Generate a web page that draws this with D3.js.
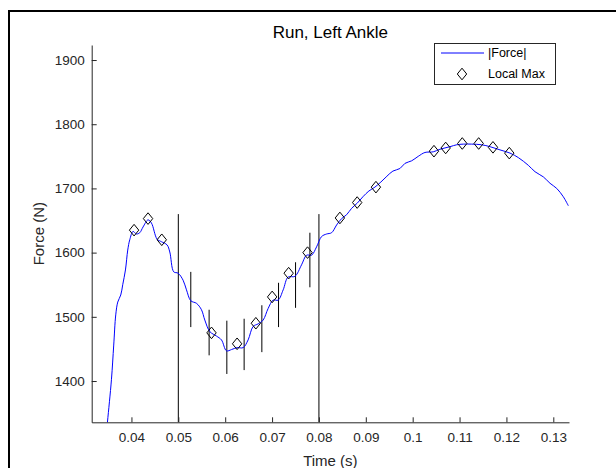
<!DOCTYPE html>
<html>
<head>
<meta charset="utf-8">
<script src="https://cdn.jsdelivr.net/npm/d3@7"></script>
<style>
  html, body { margin: 0; padding: 0; background: #fff; }
  svg { display: block; }
  text { font-family: "Liberation Sans", Arial, Helvetica, sans-serif; }
</style>
</head>
<body>
<svg id="chart" width="616" height="468"></svg>
<script>
// ---- data ----
const forceTime = [0.03451,0.03488,0.03573,0.03622,0.03665,0.03708,0.03772,0.03814,0.03872,0.03921,0.03964,
  0.04034,0.04107,0.04177,0.04248,0.04354,0.04427,0.04547,0.04640,0.04760,0.04818,0.04903,0.04995,
  0.05102,0.05174,0.05266,0.05388,0.05494,0.05565,0.05672,0.05815,0.05921,0.06028,0.06135,0.06254,
  0.06383,0.06489,0.06596,0.06703,0.06810,0.06916,0.07023,0.07130,0.07237,0.07343,0.07486,0.07629,
  0.07736,0.07843,0.07950,0.08056,0.08163,0.08270,0.08377,0.08484,0.08590,0.08697,0.08817,0.08938,
  0.09066,0.09194,0.09322,0.09450,0.09578,0.09728,0.09835,0.09978,0.10119,0.10262,0.10439,0.10582,
  0.10796,0.10939,0.11080,0.11259,0.11472,0.11650,0.11863,0.12077,0.12254,0.12467,0.12610,0.12787,
  0.12930,0.13073,0.13214,0.13321];
const forceValue = [1308,1336,1402,1456,1503,1523,1534,1550,1573,1604,1620,
  1633,1629,1631,1640,1651,1646,1621,1617,1612,1601,1570,1568,
  1557,1542,1525,1521,1511,1495,1477,1470,1464,1447,1449,1452,
  1452,1464,1485,1489,1495,1513,1526,1526,1542,1562,1563,1581,
  1596,1596,1609,1625,1629,1631,1643,1653,1659,1669,1677,1687,
  1696,1702,1710,1719,1727,1731,1739,1743,1750,1756,1757,1761,
  1765,1768,1769,1769,1768,1765,1760,1755,1748,1736,1726,1718,
  1708,1700,1687,1673];

const maxTime  = [0.04056,0.04354,0.04647,0.05708,0.06254,0.06654,0.07002,0.07354,0.07757,
  0.08447,0.08816,0.09216,0.10454,0.10704,0.11058,0.11408,0.11713,0.12061];
const maxValue = [1635,1653,1620,1475,1458,1490,1531,1568,1600,
  1654,1678,1702,1758,1763,1770,1770,1764,1755];

const barTime = [0.05266,0.05657,0.06035,0.06404,0.06782,0.07138,0.07501,0.07807];
const barLow  = [1484,1440,1411,1417,1445,1484,1514,1546];
const barHigh = [1570,1511,1494,1497,1518,1553,1585,1631];

const eventTime = [0.05, 0.08];
const eventTop  = [1660, 1660];

const xLimits = [0.03152, 0.13335];
const yLimits = [1335.7, 1923.4];
const xTicks = [0.04,0.05,0.06,0.07,0.08,0.09,0.10,0.11,0.12,0.13];
const xTickLabels = ["0.04","0.05","0.06","0.07","0.08","0.09","0.1","0.11","0.12","0.13"];
const yTicks = [1400,1500,1600,1700,1800,1900];
const yTickLabels = ["1400","1500","1600","1700","1800","1900"];
const titleText = "Run, Left Ankle";
const xLabel = "Time (s)";
const yLabel = "Force (N)";
const legendLabels = ["|Force|", "Local Max"];

// ---- layout ----
const L = 91.7, R = 569, T = 45, B = 422.3;
const axisColor = "#262626";

const svg = d3.select("#chart");

// outer frame
svg.append("path")
  .attr("d", "M9,468V11H616")
  .attr("fill", "none").attr("stroke", "#000").attr("stroke-width", 2);

const x = d3.scaleLinear().domain(xLimits).range([L, R]);
const y = d3.scaleLinear().domain(yLimits).range([B, T]);

svg.append("clipPath").attr("id", "plotclip")
  .append("rect").attr("x", L).attr("y", T).attr("width", R - L).attr("height", B - T);

const plot = svg.append("g").attr("clip-path", "url(#plotclip)");

// event lines
plot.selectAll("line.event").data(eventTime).join("line")
  .attr("class", "event")
  .attr("x1", d => x(d)).attr("x2", d => x(d))
  .attr("y1", (d, i) => y(eventTop[i])).attr("y2", y(yLimits[0]))
  .attr("stroke", "#000").attr("stroke-width", 1);

// interval bars
plot.selectAll("line.bar").data(barTime).join("line")
  .attr("class", "bar")
  .attr("x1", d => x(d)).attr("x2", d => x(d))
  .attr("y1", (d, i) => y(barHigh[i])).attr("y2", (d, i) => y(barLow[i]))
  .attr("stroke", "#000").attr("stroke-width", 1);

// force line
const lineGen = d3.line()
  .x((d, i) => x(forceTime[i]))
  .y((d, i) => y(forceValue[i]))
  .curve(d3.curveCatmullRom.alpha(0.5));
plot.append("path").datum(forceValue)
  .attr("d", lineGen)
  .attr("fill", "none").attr("stroke", "#0000ff").attr("stroke-width", 1);

// diamonds
const hw = 4.7, hh = 5.8;
const diamond = (cx, cy) => `M${cx},${cy - hh}L${cx + hw},${cy}L${cx},${cy + hh}L${cx - hw},${cy}Z`;
plot.selectAll("path.mx").data(maxTime).join("path")
  .attr("class", "mx")
  .attr("d", (d, i) => diamond(x(d), y(maxValue[i])))
  .attr("fill", "none").attr("stroke", "#000").attr("stroke-width", 1);

// axes
const xAxis = d3.axisBottom(x).tickValues(xTicks)
  .tickFormat((d, i) => xTickLabels[i]).tickSizeInner(-5).tickSizeOuter(0).tickPadding(10);
const yAxis = d3.axisLeft(y).tickValues(yTicks)
  .tickFormat((d, i) => yTickLabels[i]).tickSizeInner(-5).tickSizeOuter(0).tickPadding(7);

const gx = svg.append("g").attr("transform", `translate(0,${B})`).call(xAxis);
const gy = svg.append("g").attr("transform", `translate(${L},0)`).call(yAxis);
[gx, gy].forEach(g => {
  g.select(".domain").attr("stroke", axisColor).attr("stroke-width", 1);
  g.selectAll(".tick line").attr("stroke", axisColor);
  g.selectAll(".tick text").attr("fill", axisColor)
    .style("font-family", "'Liberation Sans', Arial, sans-serif").style("font-size", "13.5px");
});

// title & labels
svg.append("text").attr("x", (L + R) / 2).attr("y", 32)
  .attr("text-anchor", "middle").attr("dominant-baseline", "central")
  .attr("fill", "#000").style("font-size", "17px").text(titleText);
svg.append("text").attr("x", (L + R) / 2).attr("y", 460)
  .attr("text-anchor", "middle").attr("dominant-baseline", "central")
  .attr("fill", axisColor).style("font-size", "15px").text(xLabel);
svg.append("text")
  .attr("transform", `translate(38,${(T + B) / 2}) rotate(-90)`)
  .attr("text-anchor", "middle").attr("dominant-baseline", "central")
  .attr("fill", axisColor).style("font-size", "15px").text(yLabel);

// legend
const lg = svg.append("g");
lg.append("rect").attr("x", 434.5).attr("y", 43.5).attr("width", 121).attr("height", 41)
  .attr("fill", "#fff").attr("stroke", axisColor).attr("stroke-width", 1);
lg.append("line").attr("x1", 441).attr("x2", 484).attr("y1", 53).attr("y2", 53)
  .attr("stroke", "#0000ff").attr("stroke-width", 1);
lg.append("path").attr("d", diamond(462, 74)).attr("fill", "none").attr("stroke", "#000");
lg.selectAll("text").data(legendLabels).join("text")
  .attr("x", 488).attr("y", (d, i) => i === 0 ? 53 : 74)
  .attr("dominant-baseline", "central").attr("fill", "#000")
  .style("font-size", "12.5px").text(d => d);
</script>
</body>
</html>
